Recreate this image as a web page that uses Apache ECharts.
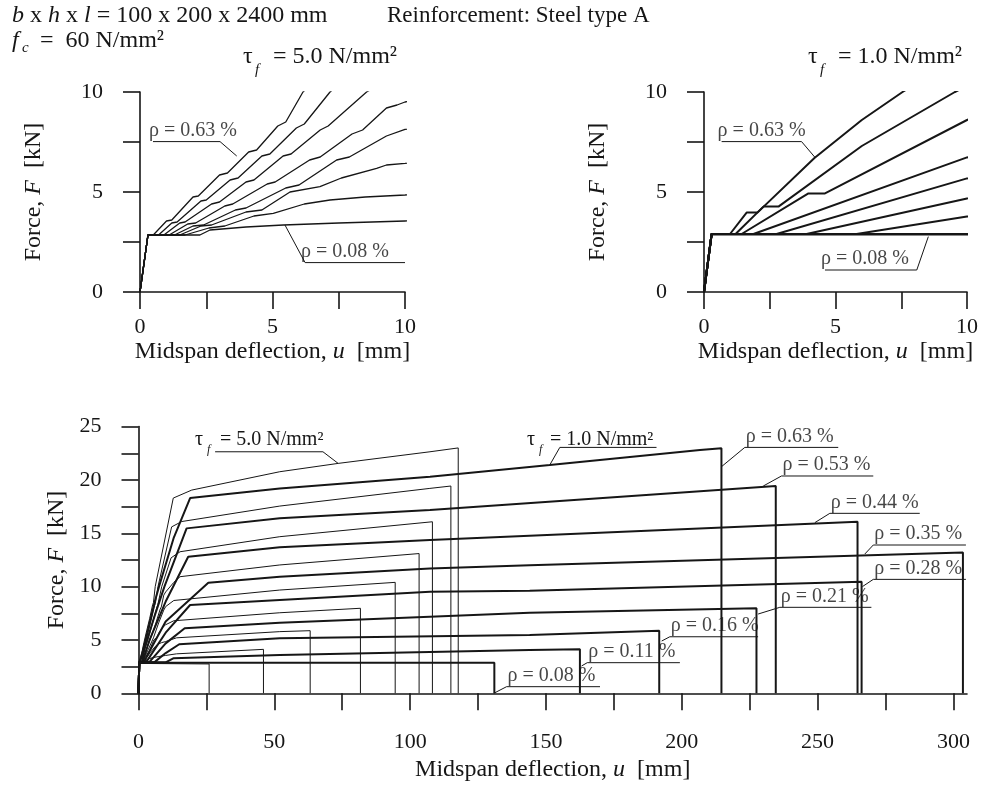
<!DOCTYPE html>
<html><head><meta charset="utf-8">
<script src="https://cdn.jsdelivr.net/npm/echarts@6/dist/echarts.min.js"></script>
<style>html,body{margin:0;padding:0;background:#fff}#c{width:981px;height:785px}</style>
</head><body><div id="c"></div>
<script>
// ---------- tick values ----------
const smallTicks = [0, 2.5, 5, 7.5, 10];
const smallLabels = [0, 5, 10];
const bigXTicks = [0, 25, 50, 75, 100, 125, 150, 175, 200, 225, 250, 275, 300];
const bigXLabels = [0, 50, 100, 150, 200, 250, 300];
const bigYTicks = [0, 2.5, 5, 7.5, 10, 12.5, 15, 17.5, 20, 22.5, 25];
const bigYLabels = [0, 5, 10, 15, 20, 25];

// ---------- curves, tau_f = 5.0 N/mm2 (u [mm], F [kN]) ----------
const t5_063 = [[0,0],[0.3,2.85],[0.5,2.85],[1.0,3.55],[1.2,3.6],[2.0,4.75],[2.2,4.8],[3.0,5.85],[3.3,5.95],[4.1,7.0],[4.4,7.1],[5.2,8.3],[5.5,8.5],[6.15,10],[12.8,18.3],[19.6,19.05],[52,20.77],[73.5,21.55],[107.3,22.64],[117.7,23.0],[117.7,0]];
const t5_053 = [[0,0],[0.3,2.85],[0.7,2.85],[1.2,3.45],[1.4,3.5],[2.3,4.55],[2.5,4.6],[3.4,5.6],[3.7,5.7],[4.6,6.8],[4.9,6.9],[5.9,8.2],[6.2,8.4],[7.17,10],[12.2,15.6],[15.9,16.1],[52,17.55],[107,19.2],[115,19.43],[115,0]];
const t5_044 = [[0,0],[0.3,2.85],[0.9,2.85],[1.5,3.45],[1.7,3.5],[2.7,4.4],[3.0,4.5],[4.0,5.5],[4.3,5.6],[5.4,6.8],[5.7,6.9],[6.8,8.1],[7.1,8.3],[8.55,10],[12,12.7],[15.3,13.27],[52,14.68],[108.2,16.08],[108.2,0]];
const t5_035 = [[0,0],[0.3,2.85],[1.1,2.85],[1.8,3.4],[2.1,3.45],[3.2,4.3],[3.5,4.4],[4.8,5.4],[5.1,5.5],[6.4,6.6],[6.8,6.75],[8.0,7.9],[8.4,8.1],[9.3,9.2],[9.7,9.35],[10,9.5],[13,10.4],[15.3,10.93],[52,12.03],[103.3,13.1],[103.3,0]];
const t5_028 = [[0,0],[0.3,2.85],[1.3,2.85],[2.0,3.3],[2.4,3.35],[3.6,4.1],[4.0,4.2],[5.5,5.2],[6.0,5.35],[7.42,6.6],[7.9,6.75],[9.3,7.8],[10,8.13],[13,8.7],[52,9.68],[94.5,10.4],[94.5,0]];
const t5_021 = [[0,0],[0.3,2.85],[1.5,2.85],[2.3,3.3],[2.7,3.35],[4.0,4.0],[4.6,4.1],[5.66,5.0],[6.79,5.27],[7.6,5.7],[8.93,6.18],[9.3,6.35],[10,6.43],[13,6.8],[52,7.55],[81.7,7.97],[81.7,0]];
const t5_016 = [[0,0],[0.3,2.85],[1.7,2.85],[2.6,3.2],[3.2,3.3],[4.3,3.8],[5.03,3.93],[6.2,4.4],[7.17,4.6],[8.5,4.75],[10,4.85],[14,5.2],[52,5.78],[63.2,5.87],[63.2,0]];
const t5_011 = [[0,0],[0.3,2.85],[2.26,2.85],[2.64,3.1],[4.0,3.25],[5.41,3.35],[7.5,3.45],[10,3.55],[14,3.7],[46,4.12],[46,0]];
const t5_008 = [[0,0],[0.3,2.8],[26,2.75],[26,0]];

// ---------- curves, tau_f = 1.0 N/mm2 ----------
const t1_063 = [[0,0],[0.29,2.9],[0.99,2.9],[1.62,3.97],[2.03,3.97],[4.2,6.7],[6,8.6],[7.55,10],[13,14.6],[19,18.3],[52,19.2],[107.3,20.3],[151.4,21.4],[206.7,22.8],[214.6,22.97],[214.6,0]];
const t1_053 = [[0,0],[0.29,2.9],[1.2,2.9],[2.26,4.27],[2.83,4.27],[6,7.3],[9.54,10],[17.7,15.46],[52,16.4],[107.3,17.18],[234.6,19.43],[234.6,0]];
const t1_044 = [[0,0],[0.29,2.9],[1.43,2.9],[3.97,4.93],[4.6,4.93],[10,8.6],[18.3,12.8],[52,13.68],[107.3,14.37],[264.7,16.08],[264.7,0]];
const t1_035 = [[0,0],[0.29,2.9],[1.88,2.9],[10,6.73],[25.7,10.37],[52,10.93],[107.3,11.7],[144,12.0],[303.5,13.2],[303.5,0]];
const t1_028 = [[0,0],[0.29,2.9],[2.76,2.9],[10,5.68],[19,8.28],[52,8.75],[107.3,9.52],[144,9.62],[266.2,10.46],[266.2,0]];
const t1_021 = [[0,0],[0.29,2.9],[3.9,2.9],[10,4.68],[17,6.1],[52,6.62],[144,7.56],[227.5,7.97],[227.5,0]];
const t1_016 = [[0,0],[0.29,2.9],[5.8,2.9],[10,3.77],[15,4.6],[52,5.15],[144,5.46],[191.7,5.87],[191.7,0]];
const t1_011 = [[0,0],[0.29,2.9],[10,2.9],[12.8,3.28],[52,3.59],[144,4.06],[162.5,4.12],[162.5,0]];
const t1_008 = [[0,0],[0.29,2.87],[131,2.87],[131,0]];

// ---------- annotations: [text, leader polyline (data coords); last point = left end of underline] ----------
const tlNotes = [
  ['ρ = 0.63 %', [[3.65,6.8],[3.02,7.52],[0.49,7.52]]],
  ['ρ = 0.08 %', [[10,1.47],[6.23,1.47],[5.47,3.35]]]
];
const trNotes = [
  ['ρ = 0.63 %', [[4.22,6.73],[3.71,7.52],[0.67,7.52]]],
  ['ρ = 0.08 %', [[8.53,2.77],[8.09,1.1],[4.6,1.1]]]
];
const tlNoteAnchors = [[0.49,7.52],[6.23,1.47]];
const trNoteAnchors = [[0.67,7.52],[4.6,1.1]];
const bNotes = [
  ['ρ = 0.63 %', [[214.6,21.24],[223.2,23.05],[257.6,23.05]]],
  ['ρ = 0.53 %', [[230,19.43],[236.7,20.37],[270.5,20.37]]],
  ['ρ = 0.44 %', [[249,16.0],[254.5,16.87],[287.6,16.87]]],
  ['ρ = 0.35 %', [[267.4,13.06],[270.5,13.9],[304.6,13.9]]],
  ['ρ = 0.28 %', [[266.5,10.0],[270.5,10.68],[304.6,10.68]]],
  ['ρ = 0.21 %', [[228.1,7.43],[236.1,8.06],[269.8,8.06]]],
  ['ρ = 0.16 %', [[192.6,4.9],[195.6,5.3],[228.1,5.3]]],
  ['ρ = 0.11 %', [[163.1,2.56],[165.2,2.87],[199.3,2.87]]],
  ['ρ = 0.08 %', [[130.8,0],[135.5,0.62],[169.9,0.62]]]
];
// tau_f labels in the lower chart: value, leader, text anchor (left of tau glyph, top of text)
const bTauValues = ['5.0', '1.0'];
const bTauLeaders = [[[73.5,21.55],[67.9,22.64],[28.2,22.64]], [[151.4,21.4],[155.1,23.05],[190.7,23.05]]];
const bTauAnchors = [[20.8,24.7], [143.0,24.7]];

const tau5 = [t5_063,t5_053,t5_044,t5_035,t5_028,t5_021,t5_016,t5_011,t5_008];
const tau1 = [t1_063,t1_053,t1_044,t1_035,t1_028,t1_021,t1_016,t1_011,t1_008];

const FONT = 'Liberation Serif';
const INK = '#161616';

function curve(data, idx, w) {
  return {type:'line', xAxisIndex:idx, yAxisIndex:idx, data:data, symbol:'none',
    lineStyle:{color:INK, width:w}, animation:false, silent:true, clip:true, z:3};
}
function leader(data, idx) {
  return {type:'line', xAxisIndex:idx, yAxisIndex:idx, data:data, symbol:'none',
    lineStyle:{color:INK, width:1}, animation:false, silent:true, clip:false, z:4};
}
function noteText(text, pt, idx, size, dx) {
  return {type:'scatter', xAxisIndex:idx, yAxisIndex:idx, symbolSize:0, data:[pt], animation:false, silent:true, clip:false, z:5,
    label:{show:true, formatter:text, position:[dx, -1], align:'left', verticalAlign:'bottom',
      fontFamily:FONT, fontSize:size, color:INK}};
}

const nameRich = {n:{fontFamily:FONT, fontSize:24, color:INK}, i:{fontFamily:FONT, fontSize:24, fontStyle:'italic', color:INK}};
function xAxisCfg(idx, min, max, ticks, labels, gap, lmargin) {
  return {gridIndex:idx, type:'value', min:min, max:max,
    axisLine:{show:true, onZero:false, lineStyle:{color:INK, width:1.6}},
    axisTick:{show:true, length:17, customValues:ticks, lineStyle:{color:INK, width:1.6}},
    axisLabel:{customValues:labels, margin:lmargin, fontFamily:FONT, fontSize:22, color:INK},
    splitLine:{show:false},
    name:'{n|Midspan deflection, }{i|u}{n|  [mm]}', nameLocation:'middle', nameGap:gap,
    nameTextStyle:{rich:nameRich}};
}
function yAxisCfg(idx, min, max, ticks, labels, gap) {
  return {gridIndex:idx, type:'value', min:min, max:max,
    axisLine:{show:true, onZero:false, lineStyle:{color:INK, width:1.6}},
    axisTick:{show:true, length:17, customValues:ticks, lineStyle:{color:INK, width:1.6}},
    axisLabel:{customValues:labels, margin:37, fontFamily:FONT, fontSize:22, color:INK},
    splitLine:{show:false},
    name:'{n|Force, }{i|F}{n|  [kN]}', nameLocation:'middle', nameGap:gap, nameRotate:90,
    nameTextStyle:{rich:nameRich}};
}

const series = [];
tau5.slice(0, 8).forEach(d => series.push(curve(d, 0, 1.3)));
tau1.forEach(d => series.push(curve(d, 1, 2)));
tau5.forEach(d => series.push(curve(d, 2, 1)));
tau1.forEach(d => series.push(curve(d, 2, 2)));
tlNotes.forEach((n, k) => { series.push(leader(n[1], 0)); series.push(noteText(n[0], tlNoteAnchors[k], 0, 20, -4)); });
trNotes.forEach((n, k) => { series.push(leader(n[1], 1)); series.push(noteText(n[0], trNoteAnchors[k], 1, 20, -4)); });
bNotes.forEach(n => { series.push(leader(n[1], 2)); series.push(noteText(n[0], n[1][1], 2, 20, 1)); });
bTauLeaders.forEach(d => series.push(leader(d, 2)));

const chart = echarts.init(document.getElementById('c'), null, {renderer:'canvas'});
chart.setOption({
  backgroundColor:'#ffffff',
  animation:false,
  grid:[
    {left:140, top:92, width:265, height:200},
    {left:704, top:92, width:263, height:200},
    {left:138.5, top:426.6, width:828.5, height:266.7}
  ],
  xAxis:[
    xAxisCfg(0, 0, 10, smallTicks, smallLabels, 48, 24),
    xAxisCfg(1, 0, 10, smallTicks, smallLabels, 48, 24),
    xAxisCfg(2, 0, 305, bigXTicks, bigXLabels, 64, 38)
  ],
  yAxis:[
    yAxisCfg(0, 0, 10, smallTicks, smallLabels, 94),
    yAxisCfg(1, 0, 10, smallTicks, smallLabels, 94),
    yAxisCfg(2, 0, 25, bigYTicks, bigYLabels, 66)
  ],
  series:series
});

// header and tau labels (text only)
const rich = {n:{fontFamily:FONT, fontSize:24, fill:INK}, i:{fontFamily:FONT, fontSize:24, fontStyle:'italic', fill:INK}};
function tauLabel(x, top, val, size, dx) {
  return [
    {type:'text', x:x, y:top, style:{text:'τ', font:size+'px '+FONT, fill:INK}},
    {type:'text', x:x+12, y:top+size*0.72, style:{text:'f', font:'italic '+Math.round(size*0.62)+'px '+FONT, fill:INK}},
    {type:'text', x:x+dx, y:top, style:{text:'= '+val+' N/mm²', font:size+'px '+FONT, fill:INK}}
  ];
}
const g = [
  {type:'text', x:12, y:4, style:{text:'{i|b} x {i|h} x {i|l} = 100 x 200 x 2400 mm', rich:rich, font:'24px '+FONT, fill:INK}},
  {type:'text', x:387, y:4, style:{text:'Reinforcement: Steel type A', font:'23px '+FONT, fill:INK}},
  {type:'text', x:12, y:29, style:{text:'f', font:'italic 24px '+FONT, fill:INK}},
  {type:'text', x:22, y:41, style:{text:'c', font:'italic 15px '+FONT, fill:INK}},
  {type:'text', x:40, y:29, style:{text:'=  60 N/mm²', font:'24px '+FONT, fill:INK}}
];
tauLabel(243, 45, '5.0', 24, 30).forEach(e => g.push(e));
tauLabel(808, 45, '1.0', 24, 30).forEach(e => g.push(e));
bTauAnchors.forEach((a, k) => {
  const p = chart.convertToPixel({gridIndex:2}, a);
  tauLabel(p[0], p[1], bTauValues[k], 20, k === 0 ? 25 : 23).forEach(e => g.push(e));
});
chart.setOption({graphic:g});
</script></body></html>
